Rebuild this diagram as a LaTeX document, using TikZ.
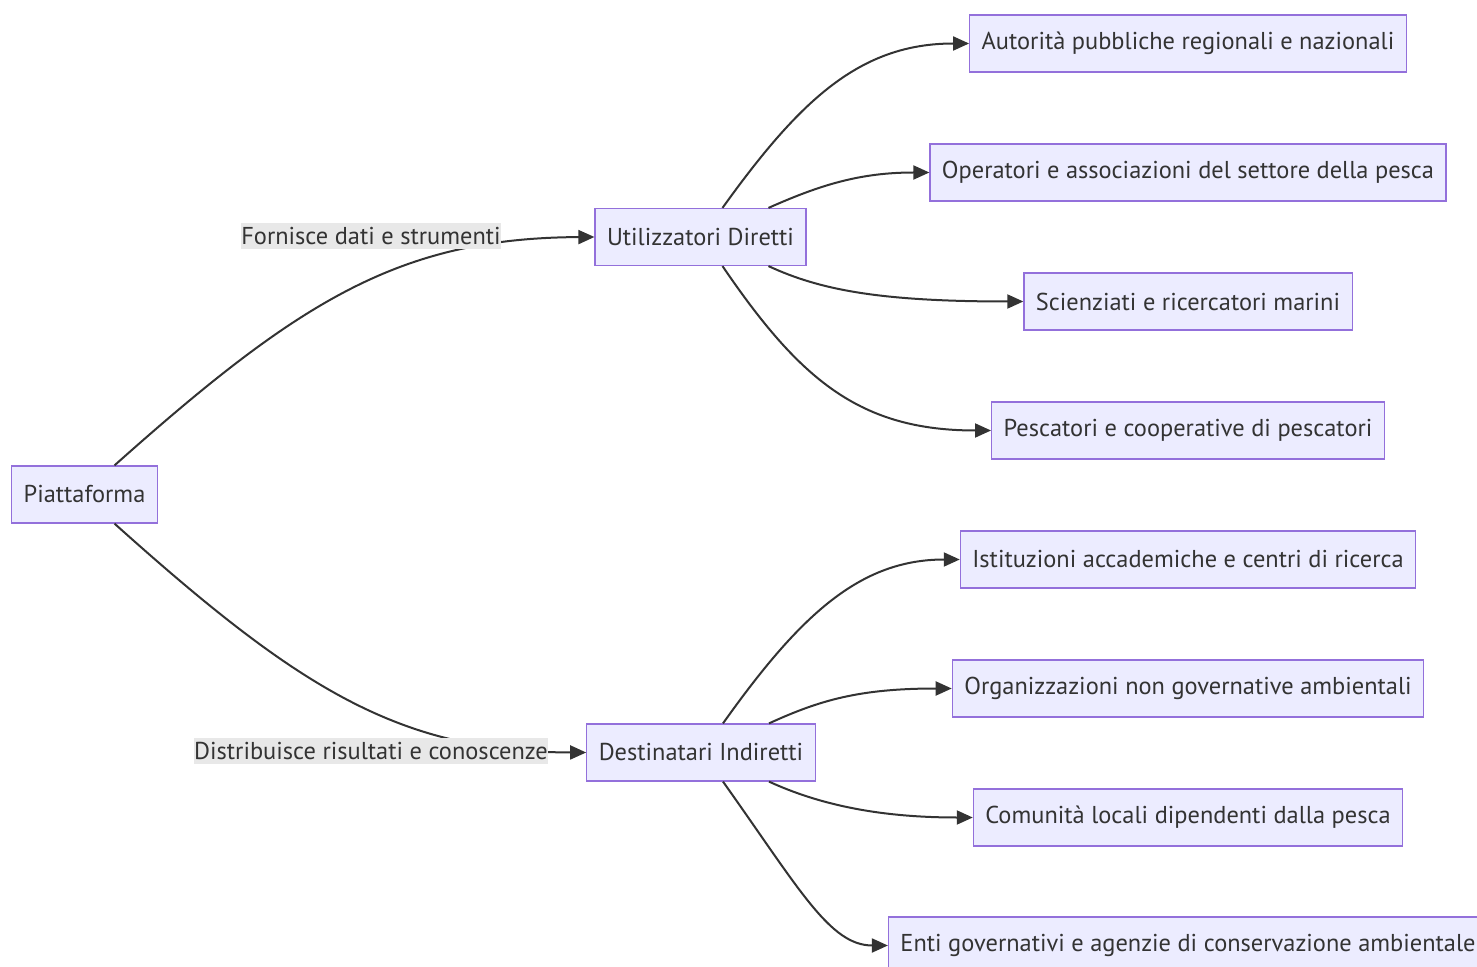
\documentclass[tikz,border=0pt]{standalone}
\usepackage{fontspec}
\setmainfont{PT Sans}
\usetikzlibrary{arrows.meta}
\definecolor{boxfill}{HTML}{ECECFF}
\definecolor{boxline}{HTML}{9370DB}
\definecolor{edgecol}{HTML}{333333}
\definecolor{lblfill}{HTML}{E8E8E8}
\tikzset{
	box/.style={draw=boxline, fill=boxfill, line width=0.6pt, text=edgecol, minimum height=28.5pt, inner xsep=6pt, font=\fontsize{12.2}{14}\selectfont},
	lbl/.style={fill=lblfill, text=edgecol, inner xsep=0pt, inner ysep=2pt, font=\fontsize{12.2}{14}\selectfont},
	link/.style={draw=edgecol, line width=1pt, -{Triangle[length=8pt,width=7pt]}},
}

\begin{document}
\begin{tikzpicture}[x=0.5pt, y=-0.5pt]
		%%%%% START %%%%%
		\useasboundingbox (0, 0) rectangle (1477, 967);
		
		\node[box] (piatt) at (84.5, 494.5) {Piattaforma};
		\node[box] (util) at (700.5, 237) {Utilizzatori Diretti};
		\node[box] (dest) at (701, 752.5) {Destinatari Indiretti};
		
		\node[box] (aut) at (1188, 43.5) {Autorità pubbliche regionali e nazionali};
		\node[box] (oper) at (1188, 172.5) {Operatori e associazioni del settore della pesca};
		\node[box] (scien) at (1188, 301.5) {Scienziati e ricercatori marini};
		\node[box] (pesc) at (1188, 430.5) {Pescatori e cooperative di pescatori};
		
		\node[box] (istit) at (1188, 559.5) {Istituzioni accademiche e centri di ricerca};
		\node[box] (ong) at (1188, 688.5) {Organizzazioni non governative ambientali};
		\node[box] (comun) at (1188, 817.5) {Comunità locali dipendenti dalla pesca};
		\node[box] (enti) at (1188, 945.5) {Enti governativi e agenzie di conservazione ambientale};
		
		\draw[link] ([xshift=15pt]piatt.north) .. controls (300, 300) and (400, 238) .. (util.west);
		\draw[link] ([xshift=15pt]piatt.south) .. controls (300, 690) and (400, 752) .. (dest.west);
		\node[lbl] (lfor) at (371, 236) {Fornisce dati e strumenti};
		\node[lbl] (ldist) at (371, 751) {Distribuisce risultati e conoscenze};
		
		\draw[link] ([xshift=11pt]util.north) .. controls (800, 100) and (860, 43.5) .. (aut.west);
		\draw[link] ([xshift=34pt]util.north) .. controls (820, 185) and (860, 172.5) .. (oper.west);
		\draw[link] ([xshift=34pt]util.south) .. controls (820, 290) and (880, 301.5) .. (scien.west);
		\draw[link] ([xshift=11pt]util.south) .. controls (800, 380) and (860, 430.5) .. (pesc.west);
		
		\draw[link] ([xshift=11pt]dest.north) .. controls (800, 615) and (860, 559.5) .. (istit.west);
		\draw[link] ([xshift=34pt]dest.north) .. controls (820, 700) and (860, 688.5) .. (ong.west);
		\draw[link] ([xshift=34pt]dest.south) .. controls (820, 805) and (880, 817.5) .. (comun.west);
		\draw[link] ([xshift=11pt]dest.south) .. controls (800, 890) and (830, 945.5) .. (enti.west);
		
		%%%%% END %%%%%
\end{tikzpicture}
\end{document}
